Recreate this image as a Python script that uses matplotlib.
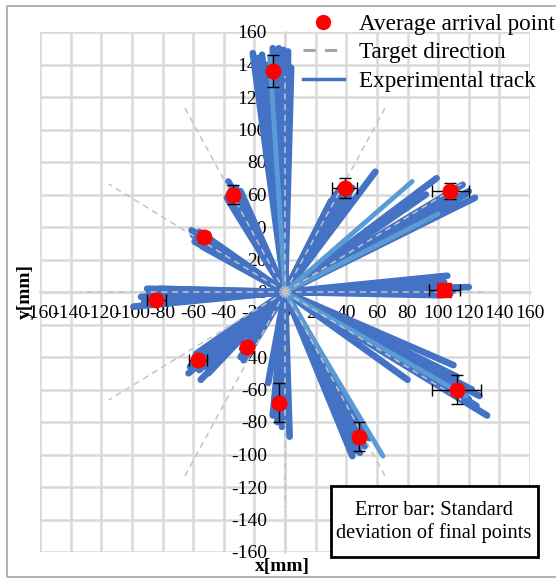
import matplotlib
matplotlib.use("Agg")
import matplotlib.pyplot as plt
from matplotlib.lines import Line2D
from matplotlib.patches import Rectangle
import numpy as np

# ---------------- data ----------------
target_angles_deg = [0, 30, 60, 90, 120, 150, 180, 210, 240, 270, 300, 330]
target_length = 133

avg_x = [104, 108, 39, -8, -34, -53, -84, -57, -25, -4, 48, 112]
avg_y = [1, 62, 64, 136, 60, 34, -5, -42, -34, -68, -89, -60]
err_x = [10, 12, 8, 3, 3, 3, 6, 6, 3, 3, 3, 16]
err_y = [3, 5, 6, 10, 6, 3, 3, 3, 3, 12, 9, 9]

# end points of experimental tracks (from origin), per target direction
tracks_dir0 = [(106, 10), (120, 3), (105, 3), (103, -2), (100, 0), (98, 5), (110, 1),
               (92, -1), (108, -1), (96, 2), (104, 6)]
tracks_dir30 = [(124, 58), (116, 66), (99, 70), (112, 56), (118, 60), (106, 52), (120, 62),
                (110, 60), (114, 58), (102, 56), (92, 60)]
tracks_dir60 = [(59, 74), (36, 64), (40, 66), (33, 60), (42, 58), (30, 56), (38, 62),
                (35, 58), (44, 64), (28, 52)]
tracks_dir90 = [(-21, 147), (-15, 146), (-8, 150), (-4, 150), (-1, 149), (2, 148), (4, 138),
                (-11, 140), (-18, 144), (-6, 146), (0, 145)]
tracks_dir120 = [(-37, 68), (-35, 63), (-33, 60), (-31, 56), (-38, 58), (-29, 62), (-36, 66),
                 (-34, 57), (-32, 64), (-30, 59)]
tracks_dir150 = [(-61, 38), (-58, 36), (-55, 31), (-52, 29), (-57, 33), (-50, 33), (-60, 35),
                 (-56, 37), (-54, 28), (-59, 31)]
tracks_dir180 = [(-99, -9), (-92, -6), (-88, 1), (-85, -3), (-80, -1), (-90, 2), (-83, -7),
                 (-94, -3), (-86, -5), (-89, -1), (-82, 2)]
tracks_dir210 = [(-63, -50), (-55, -54), (-60, -44), (-52, -46), (-48, -36), (-58, -38),
                 (-62, -46), (-56, -48), (-54, -41), (-50, -50)]
tracks_dir240 = [(-29, -40), (-26, -37), (-22, -32), (-24, -30), (-28, -35), (-27, -42),
                 (-23, -36), (-25, -33)]
tracks_dir270 = [(-11, -56), (-7, -70), (-5, -80), (-2, -83), (0, -75), (3, -89), (-4, -64),
                 (-8, -76), (-6, -72), (-1, -78)]
tracks_dir300 = [(44, -101), (47, -98), (52, -95), (55, -90), (50, -92), (42, -94), (46, -93),
                 (49, -99), (53, -88), (45, -96)]
tracks_dir330 = [(132, -76), (127, -64), (122, -60), (110, -45), (80, -54), (115, -58),
                 (105, -52), (125, -70), (118, -62), (112, -52), (120, -66)]
light_tracks = [(83, 68), (64, -101), (118, -64), (-10, 145), (100, 48)]

all_tracks = (tracks_dir0 + tracks_dir30 + tracks_dir60 + tracks_dir90 + tracks_dir120
              + tracks_dir150 + tracks_dir180 + tracks_dir210 + tracks_dir240
              + tracks_dir270 + tracks_dir300 + tracks_dir330)

ticks = list(range(-160, 161, 20))

# ---------------- figure ----------------
W, H = 556, 578
plt.rcParams["axes.unicode_minus"] = False
serif = "Liberation Serif"
plt.rcParams["font.family"] = serif
fig = plt.figure(figsize=(W / 100, H / 100), dpi=100)

# outer chart frame
frame = Rectangle((7 / W, 1 / H), (W + 20) / W, (H - 7) / H, transform=fig.transFigure,
                  fill=False, edgecolor="#a6a6a6", lw=1.2)
fig.patches.append(frame)

ax = fig.add_axes([40 / W, 1 - 552 / H, 490 / W, 520 / H])
ax.set_xlim(-160, 160)
ax.set_ylim(-160, 160)
ax.set_xticks(ticks)
ax.set_yticks(ticks)
ax.grid(True, color="#d9d9d9", lw=1.8)
ax.set_axisbelow(True)
for s in ["top", "right"]:
    ax.spines[s].set_visible(False)
ax.spines["left"].set_position(("data", 0))
ax.spines["bottom"].set_position(("data", 0))
ax.spines["left"].set_color("#d9d9d9")
ax.spines["bottom"].set_color("#d9d9d9")
ax.spines["left"].set_linewidth(1.8)
ax.spines["bottom"].set_linewidth(1.8)
ax.tick_params(axis="both", length=0, labelsize=14)
ax.tick_params(axis="y", pad=13)
ax.tick_params(axis="x", pad=9)
for lab in ax.get_xticklabels() + ax.get_yticklabels():
    lab.set_fontfamily(serif)

track_color = "#4472C4"
for (ex, ey) in all_tracks:
    ax.plot([0, ex], [0, ey], color=track_color, lw=4.8, solid_capstyle="round", zorder=3)
for (ex, ey) in light_tracks:
    ax.plot([0, ex], [0, ey], color="#5B9BD5", lw=3.5, solid_capstyle="round", zorder=3)

# target directions
for a in target_angles_deg:
    r = np.deg2rad(a)
    ax.plot([0, target_length * np.cos(r)], [0, target_length * np.sin(r)],
            color="#c4c4c4", lw=1.1, ls=(0, (4, 3)), zorder=4)

# average arrival points with error bars
ax.errorbar(avg_x, avg_y, xerr=err_x, yerr=err_y, fmt="none", ecolor="black",
            elinewidth=1.0, capsize=4, capthick=1.0, zorder=5)
sq = [i for i in range(len(avg_x)) if i == 0]
circ = [i for i in range(len(avg_x)) if i != 0]
ax.plot([avg_x[i] for i in circ], [avg_y[i] for i in circ], "o", color="#ff0000",
        ms=10.5, mec="#ff0000", zorder=6, ls="none")
ax.plot([avg_x[i] for i in sq], [avg_y[i] for i in sq], "s", color="#ff0000",
        ms=10.5, mec="#ff0000", zorder=6, ls="none")

# legend
handles = [
    Line2D([], [], marker="o", color="#ff0000", ls="none", ms=10),
    Line2D([], [], color="#a6a6a6", lw=2.2, ls=(0, (4, 3))),
    Line2D([], [], color=track_color, lw=2.5),
]
labels = ["Average arrival point", "Target direction", "Experimental track"]
fig.legend(handles, labels, loc="upper left", bbox_to_anchor=(303 / W, 1 - 14 / H),
           frameon=False, prop={"family": serif, "size": 16.7}, handlelength=1.75,
           handletextpad=0.65, labelspacing=0.3, borderaxespad=0, borderpad=0)

# axis titles
fig.text(25 / W, 1 - 291 / H, "y[mm]", rotation=90, ha="center", va="center",
         fontsize=14, fontweight="bold", family=serif)
fig.text(255 / W, 1 - 567 / H, "x[mm]", ha="left", va="center",
         fontsize=14, fontweight="bold", family=serif)

# annotation box
box = Rectangle((331 / W, 1 - 557 / H), 207 / W, 71 / H, transform=fig.transFigure,
                facecolor="white", edgecolor="black", lw=2.0, zorder=10)
fig.patches.append(box)
fig.text(434 / W, 1 - 522 / H, "Error bar: Standard\ndeviation of final points",
         ha="center", va="center", fontsize=14.7, family=serif, linespacing=1.2, zorder=11)

fig.savefig("out.png", dpi=100)
